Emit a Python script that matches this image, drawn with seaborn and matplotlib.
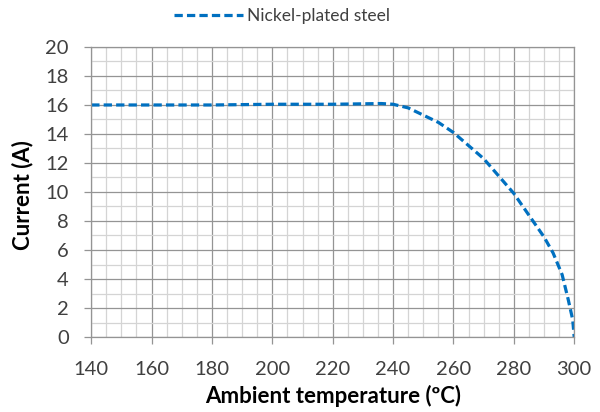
import numpy as np
import pandas as pd
import matplotlib
matplotlib.use("Agg")
import matplotlib.pyplot as plt
from matplotlib.ticker import MultipleLocator
import seaborn as sns

# valori
temperature = [140, 160, 180, 200, 220, 230, 236, 240, 245, 250, 255, 260, 265,
               270, 275, 280, 285, 290, 293, 296, 298, 299.5, 300]
corrente = [16.0, 16.0, 16.0, 16.05, 16.05, 16.08, 16.1, 16.05, 15.8, 15.3, 14.8,
            14.1, 13.2, 12.3, 11.1, 9.9, 8.4, 6.9, 5.8, 4.3, 2.6, 1.2, 0.0]
serie = "Nickel-plated steel"

df = pd.DataFrame({"Temperatura": temperature, "Corrente": corrente, "Serie": serie})

sns.set_style("white")
plt.rcParams['font.family'] = ['Lato', 'DejaVu Sans']

fig = plt.figure(figsize=(6, 4.12), dpi=100)
ax = fig.add_axes([0.152, 0.182, 0.805, 0.704])

sns.lineplot(data=df, x="Temperatura", y="Corrente", hue="Serie",
             palette=["#0070C0"], linewidth=2.3, ax=ax, legend=False)
ax.lines[0].set_dashes((2.6, 1.3))
ax.lines[0].set_dash_capstyle('butt')

ax.set_xlim(140, 300)
ax.set_ylim(0, 20)
ax.xaxis.set_major_locator(MultipleLocator(20))
ax.xaxis.set_minor_locator(MultipleLocator(5))
ax.yaxis.set_major_locator(MultipleLocator(2))
ax.yaxis.set_minor_locator(MultipleLocator(1))
ax.grid(which='major', color='#949494', linewidth=0.9)
ax.grid(which='minor', color='#D4D4D4', linewidth=0.9)
ax.set_axisbelow(True)
for s in ax.spines.values():
    s.set_color('#949494')
    s.set_linewidth(0.9)
ax.tick_params(which='major', direction='out', length=5, width=0.9, color='#949494',
               labelsize=14.5, labelcolor='#404040', left=True, bottom=True)
ax.tick_params(axis='x', which='major', pad=12)
ax.tick_params(axis='y', which='major', pad=11)
ax.tick_params(which='minor', length=0)

ax.set_xlabel("Ambient temperature (ºC)", fontsize=16, fontweight='bold', color='black', labelpad=5)
ax.set_ylabel("Current (A)", fontsize=16, fontweight='bold', color='black')
ax.yaxis.set_label_coords(-0.12, 0.49)

handle = plt.Line2D([], [], color="#0070C0", linewidth=2.3, dashes=(2.6, 1.3))
fig.legend([handle], [serie], loc='center', bbox_to_anchor=(0.47, 0.962), frameon=False,
           fontsize=12.5, handlelength=4.0, handletextpad=0.25, labelcolor='#404040')

plt.savefig("out.png", dpi=100)
